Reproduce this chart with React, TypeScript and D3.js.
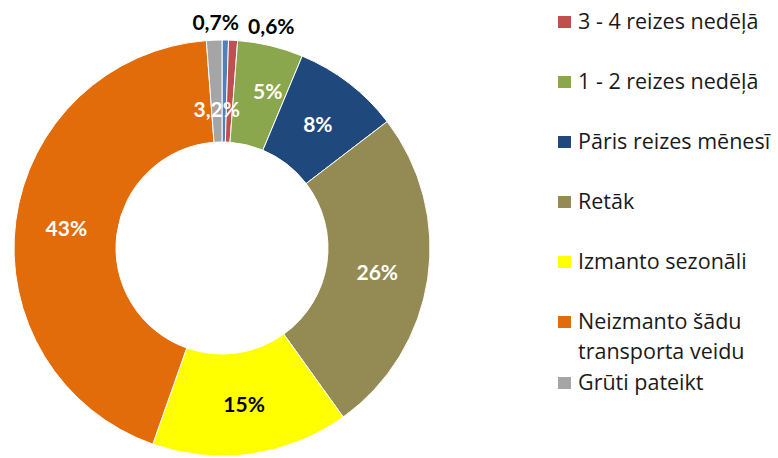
import React from "react";
import * as d3 from "d3";

const categories = [
  "",
  "3 - 4 reizes nedēļā",
  "1 - 2 reizes nedēļā",
  "Pāris reizes mēnesī",
  "Retāk",
  "Izmanto sezonāli",
  "Neizmanto šādu transporta veidu",
  "Grūti pateikt",
];
const values = [0.5, 0.7, 5.1, 8.3, 25.5, 15.3, 43.4, 1.2];
const valueLabels = ["0,7%", "0,6%", "5%", "8%", "26%", "15%", "43%", "3,2%"];
const legendLines = [
  ["3 - 4 reizes nedēļā"],
  ["1 - 2 reizes nedēļā"],
  ["Pāris reizes mēnesī"],
  ["Retāk"],
  ["Izmanto sezonāli"],
  ["Neizmanto šādu", "transporta veidu"],
  ["Grūti pateikt"],
];

const colors = ["#4f81bd", "#c0504d", "#8aa74e", "#1f497d", "#948a54", "#ffff00", "#e26b0a", "#a5a5a5"];
const labelColors = ["#000", "#000", "#fff", "#fff", "#fff", "#000", "#fff", "#fff"];
const labelRadius = [230, 230, 157, 157, 157, 157, 157, 140];
const labelShift: [number, number][] = [[-10, 3], [37, 7], [9, -5], [0, 0], [0, 0], [0, 0], [0, 0], [0, 0]];
const legendBaselines = [29, 89, 149, 209, 269, 329, 390];

export default function App() {
  const W = 778, H = 458;
  const cx = 222, cy = 248, rOuter = 208, rInner = 106;
  const pie = d3.pie<number>().sort(null).value((d) => d).startAngle(0).endAngle(2 * Math.PI);
  const arcs = pie(values);
  const arc = d3.arc<d3.PieArcDatum<number>>().innerRadius(rInner).outerRadius(rOuter);
  const font = "Lato, 'Open Sans', sans-serif";
  const legendFont = "'Open Sans', Lato, sans-serif";
  return (
    <svg width={W} height={H} style={{ position: "fixed", left: 0, top: 0, background: "#fff" }}>
      <g transform={`translate(${cx},${cy})`}>
        {arcs.map((a, i) => (
          <path key={i} d={arc(a) || ""} fill={colors[i]} stroke="#fff" strokeWidth={1} />
        ))}
        {arcs.map((a, i) => {
          const la = d3.arc<d3.PieArcDatum<number>>().innerRadius(labelRadius[i]).outerRadius(labelRadius[i]);
          const [x, y] = la.centroid(a);
          return (
            <text
              key={"l" + i}
              x={x + labelShift[i][0]}
              y={y + labelShift[i][1]}
              textAnchor="middle"
              dominantBaseline="central"
              fill={labelColors[i]}
              fontFamily={font}
              fontWeight="bold"
              fontSize={21}
            >
              {valueLabels[i]}
            </text>
          );
        })}
      </g>
      <g>
        {legendLines.map((lines, i) => (
          <g key={"lg" + i}>
            <rect x={558} y={legendBaselines[i] - 13} width={13} height={12} fill={colors[i + 1]} />
            {lines.map((t, j) => (
              <text
                key={j}
                x={578}
                y={legendBaselines[i] + j * 30}
                fill="#1a1a1a"
                fontFamily={legendFont}
                fontSize={21.5}
              >
                {t}
              </text>
            ))}
          </g>
        ))}
      </g>
    </svg>
  );
}
